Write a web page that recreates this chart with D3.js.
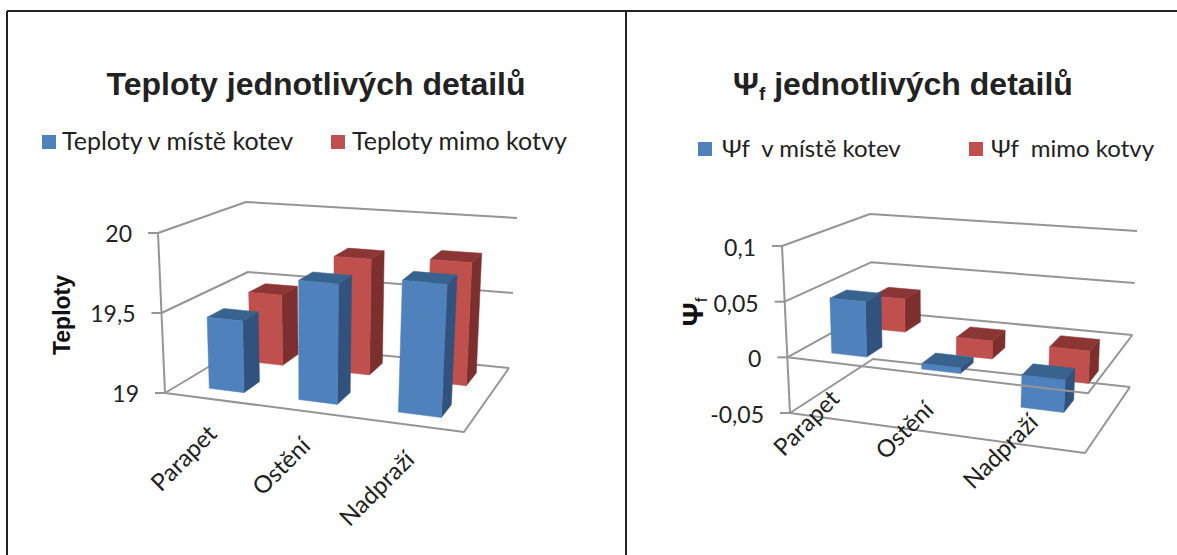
<!DOCTYPE html>
<html><head><meta charset="utf-8">
<script src="https://cdn.jsdelivr.net/npm/d3@7"></script>
<style>html,body{margin:0;padding:0;background:#fff;overflow:hidden}</style>
</head><body><svg id="c" width="1177" height="555"></svg>
<script>
const categories = ["Parapet", "Ostění", "Nadpraží"];
const tempSeriesNames = ["Teploty v místě kotev", "Teploty mimo kotvy"];
const psiSeriesNames = ["Ψf\u00a0 v místě kotev", "Ψf\u00a0 mimo kotvy"];
const tempAtAnchors = [19.45, 19.74, 19.8];
const tempOffAnchors = [19.47, 19.76, 19.79];
const psiAtAnchors = [0.05, -0.005, -0.028];
const psiOffAnchors = [0.032, -0.017, -0.03];
const tempTicks = [19, 19.5, 20];
const psiTicks = [-0.05, 0, 0.05, 0.1];

const colors = [
  {front:"#4f81bd", side:"#30527d", top:"#38638f"},
  {front:"#c0504d", side:"#7c2f2d", top:"#8b3634"}
];
const svg = d3.select("#c");
const GRID = "#959595", INK = "#222";

// Frame of the surrounding table
[[7,11,1177,11],[7,11,7,555],[626,11,626,555]].forEach(l =>
  svg.append("line").attr("x1",l[0]).attr("y1",l[1]).attr("x2",l[2]).attr("y2",l[3])
     .attr("stroke","#222").attr("stroke-width",2));

const fmt = v => String(v).replace(".", ",");

function chart(o) {
  const g = svg.append("g");
  const c = o.corners;
  const fy = d3.scaleLinear().domain(o.domain).range([0,1]);
  const fu = d3.scaleBand().domain(categories).range(o.uRange).paddingInner(o.uPad).paddingOuter(o.uPad/2);
  const fd = d3.scaleBand().domain([0,1]).range(o.dRange).paddingInner(o.dPad).paddingOuter(o.dPad/2);
  const lerp = (a,b,t) => [a[0]+(b[0]-a[0])*t, a[1]+(b[1]-a[1])*t];
  // foreshortening along the category direction
  const warp = u => 0.85*u/(1-0.15*u);
  const P = (u0,d,f) => {
    const u = warp(u0);
    const fr = lerp(lerp(c.flb,c.frb,u), lerp(c.flt,c.frt,u), f);
    const bk = lerp(lerp(c.blb,c.brb,u), lerp(c.blt,c.brt,u), f);
    return lerp(fr,bk,d);
  };
  const line = d3.line();
  const seg = (pts,w) => g.append("path").attr("d",line(pts)).attr("fill","none")
      .attr("stroke",GRID).attr("stroke-width",w||2).attr("stroke-linejoin","round");

  // walls and floor behind the bars
  o.ticks.forEach(t => {
    const f = fy(t);
    seg([P(0,0,f),P(0,1,f),P(1,1,f)]);
    seg([[P(0,0,f)[0]-10,P(0,0,f)[1]],P(0,0,f)]);
  });
  seg([P(0,0,0),P(0,0,1)]);
  // floor plate
  seg([P(0,0,0),P(1,0,0),P(1,1,0)]);
  const zf = fy(o.base);
  const drawPlateTop = () => { if (o.base !== o.domain[0]) seg([P(0,0,zf),P(1,0,zf),P(1,1,zf)]); };

  // bars, back series first
  [1,0].forEach(s => {
    categories.forEach((cat,i) => {
      const v = o.series[s][i];
      const u0 = fu(cat), u1 = u0 + fu.bandwidth();
      const d0 = fd(s), d1 = d0 + fd.bandwidth();
      const hi = fy(Math.max(v,o.base)), lo = fy(Math.min(v,o.base));
      const poly = (pts,col) => g.append("path").attr("d",line(pts)+"Z").attr("fill",col).attr("stroke",col).attr("stroke-width",0.5);
      poly([P(u1,d0,lo),P(u1,d1,lo),P(u1,d1,hi),P(u1,d0,hi)], colors[s].side);
      poly([P(u0,d0,hi),P(u1,d0,hi),P(u1,d1,hi),P(u0,d1,hi)], colors[s].top);
      poly([P(u0,d0,lo),P(u1,d0,lo),P(u1,d0,hi),P(u0,d0,hi)], colors[s].front);
    });
  });
  drawPlateTop();

  // value labels
  o.ticks.forEach(t => {
    const p = P(0,0,fy(t));
    g.append("text").attr("x",p[0]-o.tickGap).attr("y",p[1]+o.tickDy).attr("text-anchor","end")
      .attr("font-family","Lato").attr("font-size",23).attr("fill",INK).text(fmt(t));
  });
  // category labels
  categories.forEach(cat => {
    const uc = fu(cat)+fu.bandwidth()/2;
    const p = P(uc,0,fy(o.labelAt));
    g.append("text").attr("transform",`translate(${p[0]+o.labelDx},${p[1]+o.labelDy}) rotate(-45)`)
      .attr("text-anchor","end").attr("font-family","Lato").attr("font-size",24).attr("fill",INK).text(cat);
  });
  // title
  const title = g.append("text").attr("x",o.titleX).attr("y",95).attr("text-anchor","middle")
    .attr("font-family","Liberation Sans").attr("font-weight","bold").attr("font-size",32).attr("fill",INK);
  title.text(o.title);
  if (o.titleSub) { title.text(null);
    title.append("tspan").text("Ψ");
    title.append("tspan").attr("font-size",19).attr("dy",5).text("f");
    title.append("tspan").attr("dy",-5).text("\u00a0jednotlivých detailů"); }
  // axis title
  const at = g.append("text").attr("transform",`translate(${o.axX},${o.axY}) rotate(-90)`).attr("text-anchor","middle")
    .attr("font-family","Liberation Sans").attr("font-weight","bold").attr("font-size",o.axSize).attr("fill","#111");
  if (o.titleSub) { at.append("tspan").text("Ψ"); at.append("tspan").attr("font-size",17).attr("dy",4).attr("font-weight","normal").text("f"); }
  else at.text("Teploty");
  // legend
  o.legend.forEach((l,i) => {
    g.append("rect").attr("x",l.sx).attr("y",o.legY-7).attr("width",14).attr("height",14).attr("fill",colors[i].front);
    g.append("text").attr("x",l.tx).attr("y",o.legY+8).attr("font-family","Lato").attr("font-size",o.legSize).attr("fill",INK)
      .text(o.names[i]);
  });
}

chart({
  corners:{flb:[165,393],flt:[158,233],frb:[464,432],frt:[473,261],blb:[250,342],blt:[246,202],brb:[509,368],brt:[517,218]},
  domain:[19,20], base:19, ticks:tempTicks, series:[tempAtAnchors,tempOffAnchors],
  uRange:[0.02,1.01], uPad:0.6, dRange:[0.015,1.03], dPad:0.6,
  tickGap:26, tickDy:9, labelAt:19, labelDx:5, labelDy:36,
  title:"Teploty jednotlivých detailů", titleX:316, axX:70, axY:315, axSize:23,
  legend:[{sx:42,tx:62},{sx:331,tx:352}], legY:142, legSize:25, names:tempSeriesNames
});
chart({
  corners:{flb:[790,413],flt:[782,246],frb:[1085,453],frt:[1094,274],blb:[873,359],blt:[870,214],brb:[1130,387],brt:[1137,231]},
  domain:[-0.05,0.1], base:0, ticks:psiTicks, series:[psiAtAnchors,psiOffAnchors],
  uRange:[0.02,1.01], uPad:0.6, dRange:[0.015,1.03], dPad:0.6,
  tickGap:26, tickDy:10, labelAt:0, labelDx:5, labelDy:37,
  title:"", titleSub:true, titleX:903, axX:703, axY:312, axSize:30,
  legend:[{sx:698,tx:722},{sx:969,tx:991}], legY:149, legSize:24, names:psiSeriesNames
});
</script></body></html>
